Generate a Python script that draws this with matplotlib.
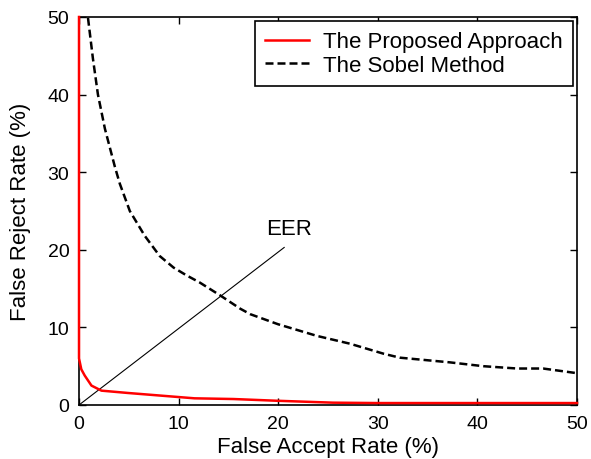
import matplotlib
matplotlib.use("Agg")
import matplotlib.pyplot as plt

plt.rcParams['font.family'] = ['Liberation Sans', 'DejaVu Sans']

# Proposed approach (red solid)
prop_far = [0, 0, 0.23, 0.57, 1.25, 2.25, 4.9, 8.3, 11.6, 15.5, 19.8, 25.5, 30, 40, 50]
prop_frr = [50, 6.0, 4.6, 3.8, 2.5, 1.85, 1.55, 1.2, 0.86, 0.77, 0.55, 0.3, 0.25, 0.25, 0.25]

# Sobel method (black dashed)
sobel_far = [0.9, 1.4, 1.9, 2.6, 3.6, 4.1, 5.1, 6.6, 8.1, 9.5, 10.8, 12.1, 14.2, 16.2,
             17.2, 20.0, 23.9, 27.2, 30.6, 32.2, 37.2, 40.6, 44.0, 46.6, 50]
sobel_frr = [49.9, 44.6, 40, 35.6, 30.7, 28.5, 25.0, 21.8, 19.2, 17.7, 16.7, 15.8, 14.1, 12.4,
             11.7, 10.4, 8.9, 7.9, 6.6, 6.1, 5.5, 5.0, 4.7, 4.7, 4.1]

# EER reference line
eer_x = [0, 20.6]
eer_y = [0, 20.3]
eer_text_pos = (21.1, 22.7)

ticks = [0, 10, 20, 30, 40, 50]

fig = plt.figure(figsize=(5.91, 4.60), dpi=100)
ax = fig.add_axes([0.1337, 0.1174, 0.8426, 0.8435])

ax.plot(prop_far, prop_frr, color='red', lw=1.8, label='The Proposed Approach', clip_on=False, zorder=3)
ax.plot(sobel_far, sobel_frr, color='black', lw=1.8, dashes=(3.2, 1.6), label='The Sobel Method', zorder=3)
ax.plot(eer_x, eer_y, color='black', lw=0.8)
ax.text(eer_text_pos[0], eer_text_pos[1], 'EER', fontsize=16, ha='center', va='center')

ax.set_xlim(0, 50)
ax.set_ylim(0, 50)
ax.set_xticks(ticks)
ax.set_yticks(ticks)
ax.tick_params(direction='in', top=True, right=True, length=5, width=1, labelsize=14, pad=7)
for s in ax.spines.values():
    s.set_linewidth(1.2)

ax.set_xlabel('False Accept Rate (%)', fontsize=16, labelpad=3)
ax.set_ylabel('False Reject Rate (%)', fontsize=16, labelpad=12)

leg = ax.legend(loc='upper right', fontsize=16, frameon=True, fancybox=False,
                edgecolor='black', framealpha=1, handlelength=2.0, handletextpad=0.6,
                labelspacing=0.1, borderpad=0.45, borderaxespad=0.2)
leg.get_frame().set_linewidth(1.2)

fig.savefig('out.png', dpi=100)
